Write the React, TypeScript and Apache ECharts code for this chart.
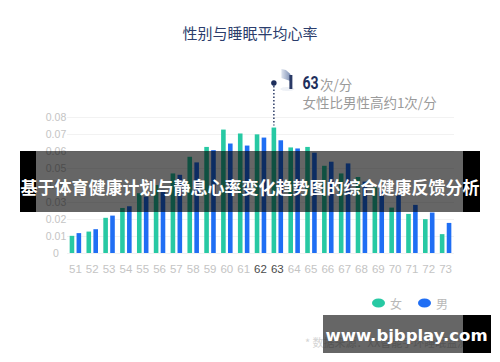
import React, { useEffect, useRef } from 'react';
import * as echarts from 'echarts';

const categories = ['51', '52', '53', '54', '55', '56', '57', '58', '59', '60', '61', '62', '63', '64', '65', '66', '67', '68', '69', '70', '71', '72', '73'];
const femaleRates = [0.0101, 0.0126, 0.0207, 0.0265, 0.0352, 0.0400, 0.0468, 0.0566, 0.0624, 0.0726, 0.0703, 0.0698, 0.0738, 0.0621, 0.0624, 0.0513, 0.0468, 0.0447, 0.0386, 0.0267, 0.0230, 0.0199, 0.0111];
const maleRates = [0.0117, 0.0140, 0.0220, 0.0275, 0.0332, 0.0372, 0.0460, 0.0533, 0.0605, 0.0644, 0.0632, 0.0679, 0.0663, 0.0615, 0.0590, 0.0537, 0.0527, 0.0420, 0.0360, 0.0340, 0.0283, 0.0238, 0.0177];
const highlightedLabels = ['62', '63'];
const peakCategory = '63';
const seriesNames = ['女', '男'];
const yMax = 0.08;
const yStep = 0.01;

const FEMALE = '#27c9a3';
const MALE = '#1f6ef4';
const NAVY = '#1e2f5c';
const LATIN = "'Liberation Sans', 'Noto Sans CJK SC', sans-serif";
const CJK = "'Noto Sans CJK SC', sans-serif";

export default function App() {
  const ref = useRef<HTMLDivElement>(null);

  useEffect(() => {
    const chart = echarts.init(ref.current!, null, { renderer: 'svg' });
    const barWidth = 4.6;
    const barGapRatio = 0.5;

    chart.setOption({
      animation: false,
      backgroundColor: '#ffffff',
      title: {
        text: '性别与睡眠平均心率',
        left: 'center',
        top: 20,
        textStyle: { fontFamily: CJK, fontSize: 15, fontWeight: 'normal', color: '#2b3d6c' },
      },
      legend: {
        data: [
          { name: seriesNames[0], icon: 'path://M0,4.5a6.5,4.5 0 1,0 13,0a6.5,4.5 0 1,0 -13,0' },
          { name: seriesNames[1], icon: 'path://M0,4.5a6.5,4.5 0 1,0 13,0a6.5,4.5 0 1,0 -13,0' },
        ],
        left: 367,
        top: 292,
        itemWidth: 13,
        itemHeight: 9,
        itemGap: 16,
        textStyle: { fontFamily: CJK, fontSize: 12, color: '#b8b8b8' },
      },
      grid: { left: 67, right: 46, top: 117, bottom: 109 },
      xAxis: {
        type: 'category',
        data: categories,
        axisLine: { show: false },
        axisTick: { show: false },
        axisLabel: {
          interval: 0,
          margin: 10,
          fontFamily: LATIN,
          fontSize: 11.5,
          color: '#c4c4c4',
          formatter: (v: string) => (highlightedLabels.includes(v) ? `{hl|${v}}` : v),
          rich: { hl: { fontFamily: LATIN, fontSize: 11.5, color: '#4a4a4a' } },
        },
      },
      yAxis: {
        type: 'value',
        min: 0,
        max: yMax,
        interval: yStep,
        axisLine: { show: false },
        axisTick: { show: false },
        splitLine: { lineStyle: { color: '#f2f2f2', width: 1 } },
        axisLabel: {
          align: 'center',
          margin: 11,
          fontFamily: LATIN,
          fontSize: 10.5,
          color: '#c4c4c4',
          formatter: (v: number) => (v === 0 ? '0' : v.toFixed(2)),
        },
      },
      series: [
        {
          name: seriesNames[0],
          type: 'bar',
          data: femaleRates,
          barWidth,
          barGap: `${barGapRatio * 100}%`,
          itemStyle: { color: FEMALE },
        },
        {
          name: seriesNames[1],
          type: 'bar',
          data: maleRates,
          barWidth,
          itemStyle: { color: MALE },
        },
      ],
    });

    const idx = categories.indexOf(peakCategory);
    const pt = chart.convertToPixel({ xAxisIndex: 0, yAxisIndex: 0 } as any, [idx, femaleRates[idx]]) as number[];
    const femaleOffset = -(barWidth + barWidth * barGapRatio) / 2;
    const lx = pt[0] + femaleOffset;
    const barTop = pt[1];
    const dotY = 83;
    const tx = lx + 28.5;

    chart.setOption({
      graphic: [
        {
          type: 'line',
          shape: { x1: lx, y1: dotY + 3, x2: lx, y2: barTop - 2 },
          style: { stroke: NAVY, lineWidth: 1.4, lineDash: [1.5, 2] },
          z: 10,
        },
        { type: 'circle', shape: { cx: lx, cy: dotY, r: 2.8 }, style: { fill: NAVY }, z: 10 },
        { type: 'ellipse', shape: { cx: lx + 13.5, cy: dotY + 6, rx: 7, ry: 2 }, style: { fill: '#eef1f6' }, z: 10 },
        {
          type: 'polygon',
          shape: { points: [[lx + 7.5, dotY - 14], [lx + 12, dotY - 13], [lx + 16.5, dotY - 9], [lx + 16.5, dotY - 2], [lx + 7.5, dotY - 5]] },
          style: {
            fill: new echarts.graphic.LinearGradient(0, 0, 1, 0, [
              { offset: 0, color: '#dde3ee' },
              { offset: 1, color: '#7f91b6' },
            ]),
          },
          z: 10,
        },
        { type: 'rect', shape: { x: lx + 15.5, y: dotY - 8, width: 3, height: 14 }, style: { fill: '#2a3a66' }, z: 11 },
        {
          type: 'text',
          x: tx,
          y: dotY,
          scaleX: 0.78,
          style: { text: peakCategory, fontFamily: "'Roboto', sans-serif", fontWeight: 'bold', fontSize: 18, fill: NAVY, verticalAlign: 'middle' },
          z: 10,
        },
        {
          type: 'text',
          x: tx + 17.5,
          y: dotY + 1,
          style: { text: '次/分', fontFamily: CJK, fontSize: 13.5, fill: '#9a9a9a', verticalAlign: 'middle' },
          z: 10,
        },
        {
          type: 'text',
          x: tx,
          y: dotY + 19,
          style: { text: '女性比男性高约1次/分', fontFamily: CJK, fontSize: 13.5, fill: '#9a9a9a', verticalAlign: 'middle' },
          z: 10,
        },
        {
          type: 'text',
          x: 305,
          y: 342,
          style: { text: '* 数据来源：XX智能手环睡眠监测', fontFamily: CJK, fontSize: 11, fill: '#d4d4d4', verticalAlign: 'middle' },
          z: 10,
        },
        // overlay banner
        { type: 'rect', shape: { x: 20, y: 151, width: 460, height: 61 }, style: { fill: 'rgba(0,0,0,0.6)' }, z: 100 },
        { type: 'rect', shape: { x: 20, y: 151, width: 16, height: 61 }, style: { fill: '#000' }, z: 100 },
        { type: 'rect', shape: { x: 463, y: 151, width: 17, height: 61 }, style: { fill: '#000' }, z: 100 },
        {
          type: 'text',
          x: 250,
          y: 186,
          style: { text: '基于体育健康计划与静息心率变化趋势图的综合健康反馈分析', fontFamily: CJK, fontWeight: 'bold', fontSize: 17, fill: '#ffffff', align: 'center', verticalAlign: 'middle' },
          z: 101,
        },
        // watermark
        { type: 'rect', shape: { x: 323, y: 315, width: 140, height: 38 }, style: { fill: 'rgba(0,0,0,0.6)' }, z: 100 },
        { type: 'rect', shape: { x: 463, y: 315, width: 28, height: 38 }, style: { fill: '#000' }, z: 100 },
        {
          type: 'text',
          x: 406.5,
          y: 335,
          style: { text: 'www.bjbplay.com', fontFamily: "'DejaVu Sans', sans-serif", fontWeight: 'bold', fontSize: 16.5, fill: '#ffffff', align: 'center', verticalAlign: 'middle' },
          z: 101,
        },
      ],
    });

    return () => chart.dispose();
  }, []);

  return <div ref={ref} style={{ position: 'fixed', left: 0, top: 0, width: 500, height: 362 }} />;
}
